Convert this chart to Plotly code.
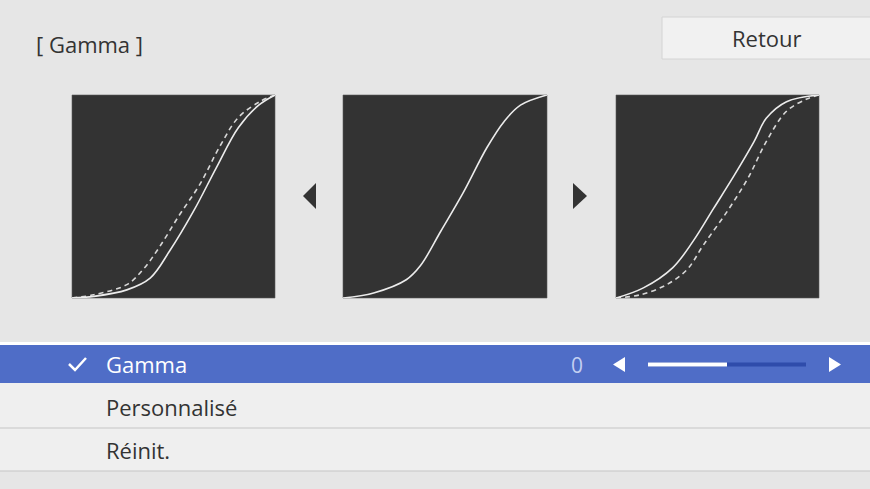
import plotly.graph_objects as go

W, H = 870, 489

# ---- data (normalised input -> output) ----
mid_x = [0.0, 0.15, 0.31, 0.38, 0.48, 0.59, 0.705, 0.79, 0.87, 1.0]
mid_y = [0.0, 0.025, 0.09, 0.16, 0.33, 0.52, 0.74, 0.87, 0.95, 1.0]

left_x = [0.0, 0.107, 0.27, 0.385, 0.48, 0.60, 0.71, 0.82, 0.92, 1.0]
left_y = [0.0, 0.008, 0.04, 0.098, 0.23, 0.43, 0.64, 0.84, 0.95, 1.0]
left_ref_x = [0.0, 0.107, 0.27, 0.35, 0.43, 0.53, 0.63, 0.73, 0.82, 0.93, 1.0]
left_ref_y = [0.0, 0.016, 0.066, 0.14, 0.25, 0.41, 0.56, 0.75, 0.89, 0.97, 1.0]

right_x = [0.0, 0.135, 0.28, 0.38, 0.48, 0.58, 0.68, 0.74, 0.84, 1.0]
right_y = [0.0, 0.05, 0.15, 0.28, 0.44, 0.60, 0.77, 0.885, 0.967, 1.0]
right_ref_x = [0.0, 0.12, 0.25, 0.35, 0.43, 0.55, 0.65, 0.74, 0.84, 0.94, 1.0]
right_ref_y = [0.0, 0.016, 0.066, 0.14, 0.26, 0.43, 0.59, 0.77, 0.92, 0.98, 1.0]

menu_items = ["Gamma", "Personnalisé", "Réinit."]
gamma_value = 0
slider_min, slider_max = -2, 2

# ---- layout helpers (pixel -> paper) ----
def px(x):
    return x / W

def py(y):
    return 1 - y / H

BG = "#e6e6e6"
ROW = "#efefef"
PANEL = "#333333"
BLUE = "#4f6dc7"
TEXT = "#333333"
FONT = "Open Sans"
FS = 22

fig = go.Figure()

panels = [(72, 275), (343, 547), (616, 819)]
curves = [
    [(left_ref_x, left_ref_y, "dash"), (left_x, left_y, "solid")],
    [(mid_x, mid_y, "solid")],
    [(right_ref_x, right_ref_y, "dash"), (right_x, right_y, "solid")],
]
top, bottom = 95, 298

shapes = []
for i, ((x0, x1), cs) in enumerate(zip(panels, curves), start=1):
    sfx = "" if i == 1 else str(i)
    for cx, cy, dash in cs:
        fig.add_trace(go.Scatter(
            x=cx, y=cy, mode="lines", xaxis=f"x{sfx}", yaxis=f"y{sfx}",
            line=dict(color="#d8d8d8" if dash == "dash" else "#ececec",
                      width=1.6, dash="5px,4px" if dash == "dash" else "solid",
                      shape="spline", smoothing=1.0),
            hoverinfo="skip", showlegend=False,
        ))
    ax = dict(domain=[px(x0), px(x1)], range=[0, 1], visible=False, fixedrange=True, anchor=f"y{sfx}")
    ay = dict(domain=[py(bottom), py(top)], range=[0, 1], visible=False, fixedrange=True, anchor=f"x{sfx}")
    fig.update_layout(**{f"xaxis{sfx}": ax, f"yaxis{sfx}": ay})
    shapes.append(dict(type="rect", xref="paper", yref="paper", layer="below",
                       x0=px(x0), x1=px(x1), y0=py(bottom), y1=py(top),
                       fillcolor=PANEL, line=dict(color="#5a5a5a", width=0.6)))

def rect(x0, y0, x1, y1, fill, line=None, layer="below"):
    shapes.append(dict(type="rect", xref="paper", yref="paper", layer=layer,
                       x0=px(x0), x1=px(x1), y0=py(y1), y1=py(y0),
                       fillcolor=fill, line=line or dict(width=0)))

def path(pts, fill=None, color=None, width=0, layer="above"):
    d = "M " + " L ".join(f"{px(a)},{py(b)}" for a, b in pts)
    if fill:
        d += " Z"
    shapes.append(dict(type="path", xref="paper", yref="paper", layer=layer, path=d,
                       fillcolor=fill, line=dict(color=color or fill, width=width)))

# Retour button
rect(662, 17, 872, 59, "#f1f1f1", line=dict(color="#d4d4d4", width=1))

# menu rows
rect(0, 342, W, 345, "#ffffff")
rect(0, 345, W, 383, BLUE)
rect(0, 383, W, 428, ROW)
rect(0, 428, W, 471, ROW)
rect(0, 427.5, W, 428.5, "#c6c6c6")
rect(0, 470.5, W, 471.5, "#c6c6c6")

# navigation arrows between panels
path([(316, 183), (303, 196), (316, 209)], fill=PANEL)
path([(573, 183), (587, 196), (573, 209)], fill=PANEL)

# checkmark
path([(69, 364), (75, 370), (86, 358)], color="#ffffff", width=2.5)

# slider
s0, s1 = 648, 806
frac = (gamma_value - slider_min) / (slider_max - slider_min)
rect(s0, 362.5, s1, 366.5, "#2f4cab", layer="above")
rect(s0, 362.5, s0 + frac * (s1 - s0), 366.5, "#ffffff", layer="above")
path([(625, 357), (613, 364.5), (625, 372)], fill="#ffffff")
path([(829, 357), (841, 364.5), (829, 372)], fill="#ffffff")

annotations = [
    dict(text="[ Gamma ]", x=px(34), y=py(44), xanchor="left",
         font=dict(size=FS, color=TEXT)),
    dict(text="Retour", x=px(767), y=py(38), xanchor="center",
         font=dict(size=FS, color=TEXT)),
    dict(text=str(gamma_value), x=px(577), y=py(365), xanchor="center",
         font=dict(size=FS - 1, color="#c3cff2")),
]
row_y = [364, 407, 450]
for label, yy in zip(menu_items, row_y):
    annotations.append(dict(text=label, x=px(104), y=py(yy), xanchor="left",
                            font=dict(size=FS, color="#ffffff" if label == "Gamma" else TEXT)))
for a in annotations:
    a.update(xref="paper", yref="paper", yanchor="middle", showarrow=False)
    a["font"]["family"] = FONT

fig.update_layout(
    width=W, height=H,
    margin=dict(l=0, r=0, t=0, b=0),
    paper_bgcolor=BG, plot_bgcolor="rgba(0,0,0,0)",
    shapes=shapes, annotations=annotations,
    showlegend=False,
)

fig.write_html("out.html", config=dict(displayModeBar=False),
               post_script="document.body.style.margin='0';")
